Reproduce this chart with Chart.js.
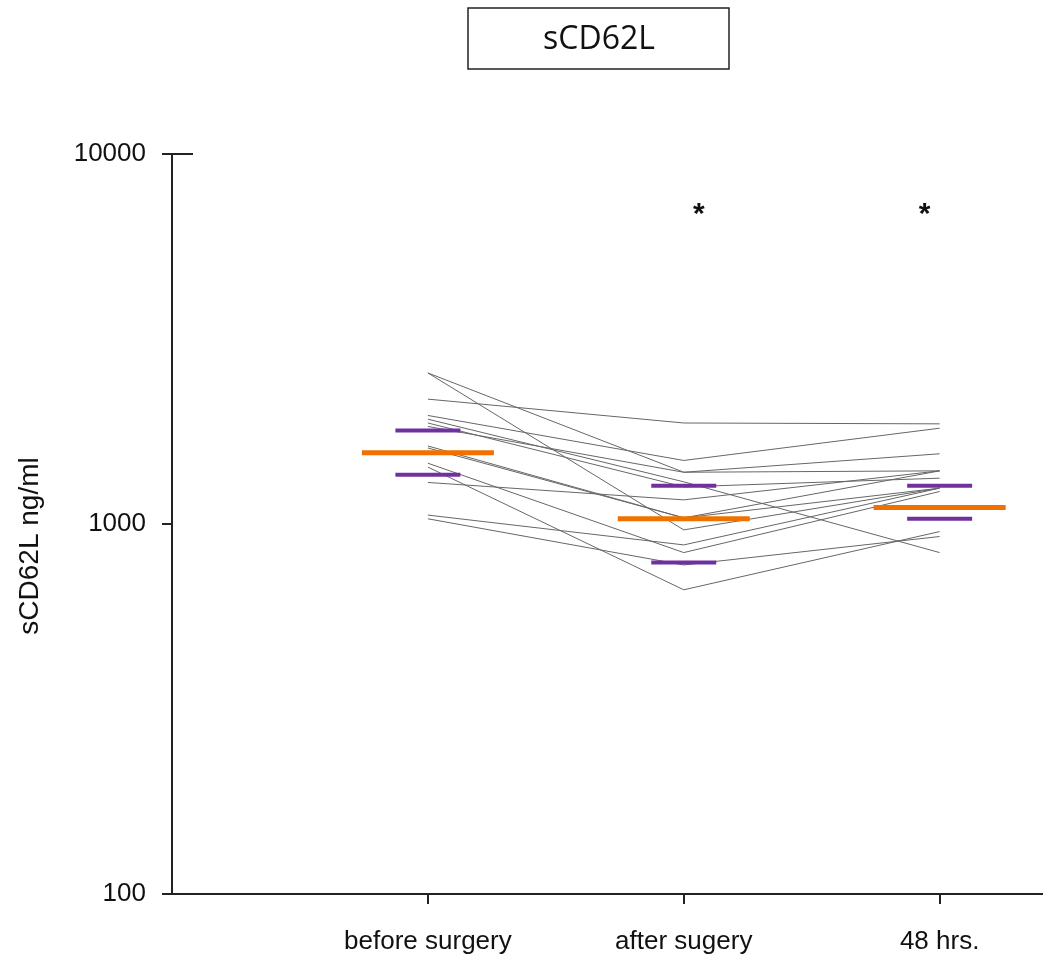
<!DOCTYPE html>
<html>
<head>
<meta charset="utf-8">
<script src="https://cdn.jsdelivr.net/npm/chart.js@4/dist/chart.umd.min.js"></script>
<style>
  html, body { margin: 0; padding: 0; background: #fff; }
  #wrap { position: relative; width: 1048px; height: 957px; }
</style>
</head>
<body>
<div id="wrap"><canvas id="grafico"></canvas></div>
<script>
// categorias e valores (ng/ml)
const categories = ['before surgery', 'after sugery', '48 hrs.'];
const beforeSurgery = [2560, 2560, 2175, 1965, 1920, 1875, 1835, 1625, 1605, 1460, 1425, 1295, 1057, 1033];
const afterSurgery  = [1380,  964, 1875, 1485, 1300, 1260, 1380, 1039, 1039,  837,  664, 1162,  878,  775];
const after48h      = [1392, 1250, 1865, 1815,  837, 1330, 1548, 1250, 1392, 1224,  954, 1392, 1250,  925];

const medians        = [1557, 1033, 1108];
const upperQuartiles = [1789, 1268, 1268];
const lowerQuartiles = [1358,  787, 1033];

const yTicks = [100, 1000, 10000];
const starCategories = [2, 3];
const starValue = 7100;

const pacientes = beforeSurgery.map(function(v, i) {
    return {
        data: [
            { x: 1, y: v },
            { x: 2, y: afterSurgery[i] },
            { x: 3, y: after48h[i] }
        ],
        borderColor: '#666666',
        borderWidth: 1,
        pointRadius: 0,
        order: 1
    };
});

function barra(centro, valor, meia, cor, largura) {
    return {
        data: [{ x: centro - meia, y: valor }, { x: centro + meia, y: valor }],
        borderColor: cor,
        borderWidth: largura,
        borderCapStyle: 'butt',
        pointRadius: 0,
        order: 0
    };
}

const marcadores = [];
medians.forEach(function(m, k) {
    marcadores.push(barra(k + 1, m, 0.258, '#f07000', 5));
    marcadores.push(barra(k + 1, upperQuartiles[k], 0.127, '#7030a0', 4));
    marcadores.push(barra(k + 1, lowerQuartiles[k], 0.127, '#7030a0', 4));
});

const extras = {
    id: 'extras',
    afterDraw: function(chart) {
        const c = chart.ctx;
        const xs = chart.scales.x, ys = chart.scales.y;
        c.save();
        // caixa do titulo
        c.strokeStyle = '#222';
        c.lineWidth = 1.5;
        c.strokeRect(468, 8, 261, 61);
        c.fillStyle = '#111';
        c.font = '32px "Open Sans"';
        c.textAlign = 'center';
        c.textBaseline = 'middle';
        c.fillText('sCD62L', 599, 40);

        // titulo do eixo y
        c.save();
        c.translate(30, 546);
        c.rotate(-Math.PI / 2);
        c.font = '28px "Liberation Sans"';
        c.fillText('sCD62L ng/ml', 0, 0);
        c.restore();

        // asteriscos
        c.font = 'bold 30px "Liberation Sans"';
        c.textBaseline = 'alphabetic';
        const offs = { 2: 15, 3: -15 };
        starCategories.forEach(function(k) {
            c.fillText('*', xs.getPixelForValue(k) + offs[k], ys.getPixelForValue(starValue) + 14);
        });

        // traco no topo do eixo
        c.strokeStyle = '#222';
        c.lineWidth = 2;
        const yt = ys.getPixelForValue(10000);
        c.beginPath();
        c.moveTo(xs.left, yt);
        c.lineTo(xs.left + 21, yt);
        c.stroke();
        c.restore();
    }
};

const ctx = document.getElementById('grafico').getContext('2d');
const grafico = new Chart(ctx, {
    type: 'line',
    data: { datasets: marcadores.concat(pacientes) },
    options: {
        responsive: true,
        maintainAspectRatio: false,
        animation: false,
        layout: { padding: { top: 154, right: 6, bottom: 0, left: 0 } },
        plugins: {
            legend: { display: false },
            tooltip: { enabled: false }
        },
        scales: {
            x: {
                type: 'linear',
                min: 0,
                max: 3.4,
                afterBuildTicks: function(scale) {
                    scale.ticks = [1, 2, 3].map(function(v) { return { value: v }; });
                },
                afterFit: function(scale) { scale.height = 63; },
                grid: { drawOnChartArea: false, drawTicks: true, tickLength: 10, color: '#222', lineWidth: 2 },
                border: { display: true, color: '#222', width: 2 },
                ticks: {
                    padding: 22,
                    color: '#111',
                    font: { family: 'Liberation Sans', size: 26 },
                    maxRotation: 0,
                    callback: function(value) { return categories[value - 1]; }
                }
            },
            y: {
                type: 'logarithmic',
                min: 100,
                max: 10000,
                afterBuildTicks: function(scale) {
                    scale.ticks = yTicks.map(function(v) { return { value: v }; });
                },
                afterFit: function(scale) { scale.width = 172; },
                grid: { drawOnChartArea: false, drawTicks: true, tickLength: 10, color: '#222', lineWidth: 2 },
                border: { display: true, color: '#222', width: 2 },
                ticks: {
                    padding: 16,
                    color: '#111',
                    font: { family: 'Liberation Sans', size: 26 },
                    callback: function(value) { return String(value); }
                }
            }
        }
    },
    plugins: [extras]
});
</script>
</body>
</html>
